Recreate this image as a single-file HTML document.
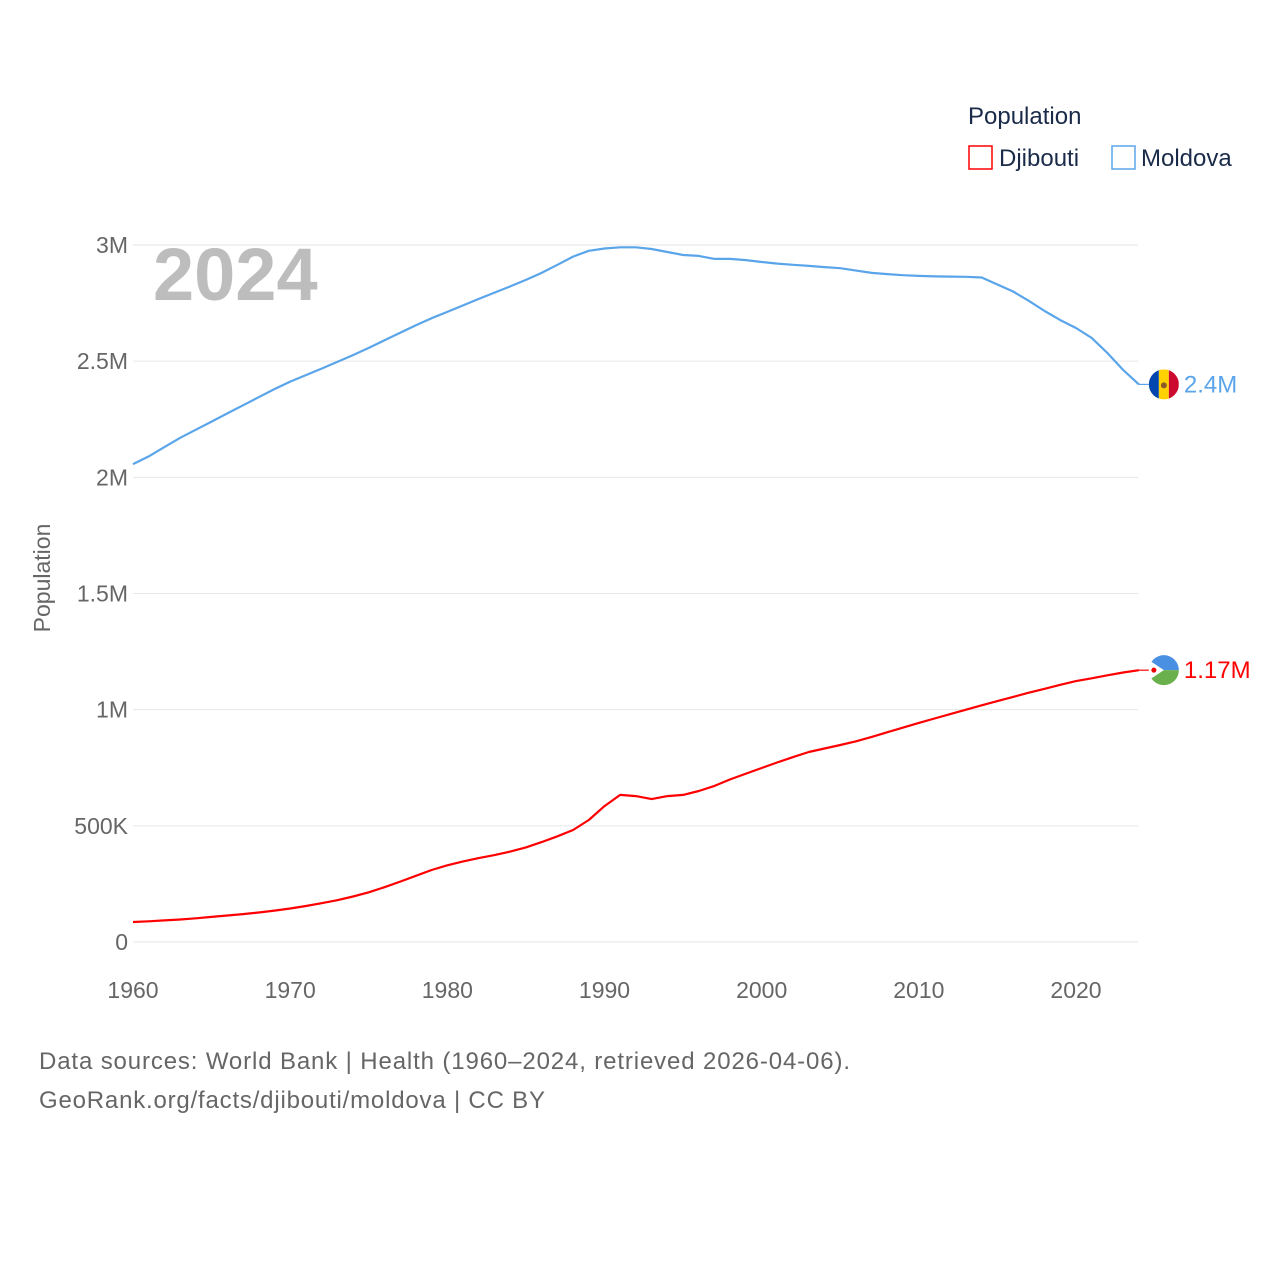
<!DOCTYPE html>
<html><head><meta charset="utf-8"><style>
body{margin:0;background:#fff;font-family:"Liberation Sans",sans-serif;}
svg text{font-family:"Liberation Sans",sans-serif;}
</style></head><body>
<svg id="chart" width="1280" height="1280" xmlns="http://www.w3.org/2000/svg">
<defs><clipPath id="cm"></clipPath></defs>
<g id="grid"></g>
<g id="yticks"></g>
<g id="xticks"></g>
<text x="153" y="300" font-size="74" font-weight="bold" fill="#bdbdbd">2024</text>
<text transform="translate(50,578) rotate(-90)" text-anchor="middle" font-size="23" fill="#666">Population</text>
<g id="series"></g>
<text x="968" y="124" font-size="24" fill="#1a2b4a">Population</text>
<rect x="969" y="146" width="23" height="23" fill="none" stroke="#ff0000" stroke-width="1.5"/>
<text x="999" y="166" font-size="24" fill="#1a2b4a">Djibouti</text>
<rect x="1112" y="146" width="23" height="23" fill="none" stroke="#5aa5ea" stroke-width="1.5"/>
<text x="1141" y="166" font-size="24" fill="#1a2b4a">Moldova</text>
<text x="39" y="1069" font-size="24" fill="#666" textLength="811">Data sources: World Bank | Health (1960–2024, retrieved 2026-04-06).</text>
<text x="39" y="1108" font-size="24" fill="#666" textLength="506">GeoRank.org/facts/djibouti/moldova | CC BY</text>
</svg>
<script>
const years=[];for(let y=1960;y<=2024;y++)years.push(y);
const moldova=[2.057,2.09,2.13,2.17,2.205,2.24,2.275,2.31,2.345,2.38,2.412,2.44,2.468,2.497,2.526,2.557,2.59,2.622,2.655,2.685,2.712,2.74,2.768,2.795,2.822,2.85,2.88,2.915,2.95,2.975,2.985,2.99,2.99,2.983,2.97,2.957,2.953,2.94,2.94,2.935,2.927,2.92,2.915,2.91,2.905,2.90,2.89,2.88,2.875,2.87,2.867,2.865,2.864,2.863,2.86,2.83,2.80,2.76,2.716,2.677,2.643,2.60,2.535,2.462,2.40];
const djibouti=[0.086,0.089,0.093,0.097,0.102,0.108,0.114,0.120,0.127,0.135,0.144,0.155,0.167,0.180,0.196,0.214,0.236,0.260,0.285,0.310,0.330,0.347,0.361,0.374,0.389,0.407,0.430,0.455,0.482,0.525,0.585,0.633,0.628,0.615,0.628,0.633,0.65,0.672,0.70,0.725,0.749,0.773,0.796,0.818,0.833,0.848,0.864,0.883,0.903,0.923,0.943,0.962,0.981,1.0,1.019,1.037,1.055,1.073,1.09,1.107,1.123,1.135,1.148,1.16,1.17];
const yTicks=[0,0.5,1,1.5,2,2.5,3];
const yTickLabels=["0","500K","1M","1.5M","2M","2.5M","3M"];
const xTicks=[1960,1970,1980,1990,2000,2010,2020];
const NS="http://www.w3.org/2000/svg";
const xs=y=>133+(y-1960)*943/60;
const ys=v=>942-v*232.33;
function mk(tag,attrs,parent,txt){const e=document.createElementNS(NS,tag);for(const k in attrs)e.setAttribute(k,attrs[k]);if(txt!==undefined)e.textContent=txt;document.getElementById(parent).appendChild(e);return e;}
yTicks.forEach((t,i)=>{
 const l=mk('line',{x1:133,x2:1138,y1:ys(t),y2:ys(t),stroke:'#e6e6e6','stroke-width':1},'grid');
 
 
 const tx=mk('text',{x:128,y:ys(t)+8,'text-anchor':'end','font-size':23,fill:'#666'},'yticks',yTickLabels[i]);
 
 
});
xTicks.forEach(t=>{
 const tx=mk('text',{x:xs(t),y:998,'text-anchor':'middle','font-size':23,fill:'#666'},'xticks',String(t));
 
 
});
function fmt(v){return (Math.round(v*100)/100)+'M';}
function line(data,color,name){
 const d=data.map((v,i)=>(i?'L':'M')+xs(years[i]).toFixed(1)+','+ys(v).toFixed(1)).join('');
 const p=mk('path',{d:d,fill:'none',stroke:color,'stroke-width':2.2,'stroke-linejoin':'round'},'series');
 
 
 const last=data[data.length-1],lx=xs(years[years.length-1]),ly=ys(last);
 const c=mk('line',{x1:lx,x2:lx+12,y1:ly,y2:ly,stroke:color,'stroke-width':1.2},'series');
 
 
 const lbl=mk('text',{x:lx+45,y:ly+8,'font-size':24,fill:color},'series',fmt(last));
 
 
 return [lx+25,ly];
}
const [mx,my]=line(moldova,'#5aa5ea','moldova');
const [dx,dy]=line(djibouti,'#ff0000','djibouti');
const mc=document.createElementNS(NS,'circle');mc.setAttribute('cx',mx);mc.setAttribute('cy',my);mc.setAttribute('r',15);
document.getElementById('cm').appendChild(mc);
function flag(name,parts){
 const g=mk('g',{},'series');
 
 
 parts.forEach(p=>{const e=document.createElementNS(NS,p[0]);for(const k in p[1])e.setAttribute(k,p[1][k]);g.appendChild(e);});
}
flag('moldova',[['rect',{x:mx-15,y:my-15,width:10,height:30,fill:'#0046ae','clip-path':'url(#cm)'}],['rect',{x:mx-5,y:my-15,width:10,height:30,fill:'#ffd200','clip-path':'url(#cm)'}],['rect',{x:mx+5,y:my-15,width:10,height:30,fill:'#cc092f','clip-path':'url(#cm)'}],['circle',{cx:mx,cy:my+1,r:3,fill:'#8a5a2b'}]]);
flag('djibouti',[['path',{d:`M${dx-15},${dy} A15,15 0 0 1 ${dx+15},${dy} Z`,fill:'#4a90e2'}],['path',{d:`M${dx-15},${dy} A15,15 0 0 0 ${dx+15},${dy} Z`,fill:'#6ab04c'}],['path',{d:`M${dx-15},${dy-10} L${dx},${dy} L${dx-15},${dy+10} Z`,fill:'#fff'}],['circle',{cx:dx-10,cy:dy,r:2.5,fill:'#e00'}]]);
</script>
</body></html>
